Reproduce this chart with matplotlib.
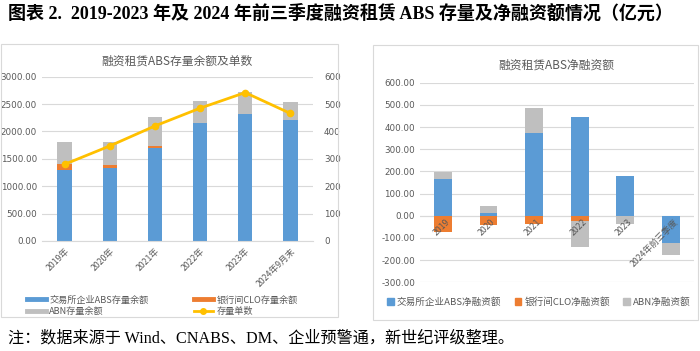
import numpy as np
import matplotlib.pyplot as plt
from matplotlib.patches import Rectangle
from matplotlib.lines import Line2D

plt.rcParams['font.family'] = ['DejaVu Sans', 'Noto Sans CJK SC']

# left chart data (亿元 / 单)
years_left = ['2019年', '2020年', '2021年', '2022年', '2023年', '2024年9月末']
exchange_bal = [1303, 1333, 1703, 2151, 2327, 2212]
clo_bal = [109, 54, 24, 0, 0, 0]
abn_bal = [393, 428, 533, 407, 388, 320]
deal_count = [280, 347, 420, 485, 542, 466]

# right chart data (亿元)
years_right = ['2019', '2020', '2021', '2022', '2023', '2024年前三季度']
exchange_net = [167, 14, 375, 447, 181, -121]
clo_net = [-73, -40, -37, -25, 0, 0]
abn_net = [29, 30, 112, -118, -35, -57]

BLUE = '#5B9BD5'
ORANGE = '#ED7D31'
GRAY = '#BFBFBF'
YELLOW = '#FFC000'
TXT = '#595959'
GRID = '#D9D9D9'
cjk = ['Noto Sans CJK SC', 'DejaVu Sans']
serif = ['Liberation Serif', 'Noto Sans CJK SC']

fig = plt.figure(figsize=(7, 3.51), dpi=100)

# panel frames
fig.patches.append(Rectangle((0.002, 0.097), 0.481, 0.778, transform=fig.transFigure,
                             fill=False, ec='#D9D9D9', lw=0.8))
fig.patches.append(Rectangle((0.533, 0.088), 0.464, 0.785, transform=fig.transFigure,
                             fill=False, ec='#D9D9D9', lw=0.8))

fig.text(0.012, 0.962, '图表 2.  2019-2023 年及 2024 年前三季度融资租赁 ABS 存量及净融资额情况（亿元）',
         family=serif, fontsize=13, fontweight='bold', va='center', ha='left')
fig.text(0.012, 0.037, '注：数据来源于 Wind、CNABS、DM、企业预警通，新世纪评级整理。',
         family=serif, fontsize=11.6, va='center', ha='left')

# ---------- left chart ----------
ax = fig.add_axes([0.06, 0.3134, 0.387, 0.4681])
x = np.arange(len(years_left))
w = 0.32
ax.bar(x, exchange_bal, w, color=BLUE, zorder=2)
ax.bar(x, clo_bal, w, bottom=exchange_bal, color=ORANGE, zorder=2)
b2 = np.array(exchange_bal) + np.array(clo_bal)
ax.bar(x, abn_bal, w, bottom=b2, color=GRAY, zorder=2)
ax.set_ylim(0, 3000)
ax.set_xlim(-0.5, len(x) - 0.5)
ax.set_yticks(np.arange(0, 3001, 500))
ax.set_yticklabels(['%.2f' % v for v in np.arange(0, 3001, 500)])
ax.grid(axis='y', color=GRID, lw=0.8, zorder=0)
ax.set_xticks(x)
ax.set_xticklabels(years_left, rotation=45, ha='right', rotation_mode='anchor', family=cjk)
ax.tick_params(axis='both', length=0, colors=TXT, labelsize=6.3)
ax.tick_params(axis='x', pad=4)
for s in ax.spines.values():
    s.set_visible(False)
ax.spines['bottom'].set_visible(True)
ax.spines['bottom'].set_color(GRID)

ax2 = ax.twinx()
ax2.plot(x, deal_count, color=YELLOW, lw=2, marker='o', ms=4.5, zorder=3)
ax2.set_ylim(0, 600)
ax2.set_yticks(np.arange(0, 601, 100))
ax2.tick_params(axis='y', length=0, colors=TXT, labelsize=6.3, pad=8)
for s in ax2.spines.values():
    s.set_visible(False)

ax.set_title('融资租赁ABS存量余额及单数', family=cjk, fontsize=8.5, color=TXT, pad=9)

# legend order is column-major, so ABN goes second
handles = [Line2D([], [], color=BLUE, lw=3.5), Line2D([], [], color=GRAY, lw=3.5),
           Line2D([], [], color=ORANGE, lw=3.5),
           Line2D([], [], color=YELLOW, lw=2, marker='o', ms=4)]
labels = ['交易所企业ABS存量余额', 'ABN存量余额', '银行间CLO存量余额', '存量单数']
fig.legend(handles, labels, loc='center', bbox_to_anchor=(0.232, 0.129), ncol=2, frameon=False,
           prop={'family': cjk, 'size': 6.6}, labelcolor=TXT, handlelength=2.0,
           columnspacing=5.0, handletextpad=0.4, labelspacing=0.3)

# ---------- right chart ----------
bx = fig.add_axes([0.6, 0.1957, 0.391, 0.5687])
xr = np.arange(len(years_right))
wr = 0.39
pos = np.zeros(len(xr))
neg = np.zeros(len(xr))
for vals, c in [(exchange_net, BLUE), (clo_net, ORANGE), (abn_net, GRAY)]:
    v = np.array(vals, dtype=float)
    bottom = np.where(v >= 0, pos, neg)
    bx.bar(xr, v, wr, bottom=bottom, color=c, zorder=2)
    pos = pos + np.where(v >= 0, v, 0)
    neg = neg + np.where(v < 0, v, 0)
bx.set_ylim(-300, 600)
bx.set_xlim(-0.5, len(xr) - 0.5)
bx.set_yticks(np.arange(-300, 601, 100))
bx.set_yticklabels(['%.2f' % v for v in np.arange(-300, 601, 100)])
bx.grid(axis='y', color=GRID, lw=0.8, zorder=0)
bx.axhline(0, color=GRID, lw=0.8, zorder=1)
bx.set_xticks([])
bx.tick_params(axis='y', length=0, colors=TXT, labelsize=6.3)
for s in bx.spines.values():
    s.set_visible(False)
for i, lab in enumerate(years_right):
    bx.text(i + 0.05, -8, lab, rotation=45, ha='right', va='top', rotation_mode='anchor',
            family=cjk, fontsize=6.3, color=TXT, zorder=4)
bx.set_title('融资租赁ABS净融资额', family=cjk, fontsize=8.5, color=TXT, pad=10)

handles_r = [Rectangle((0, 0), 1, 1, color=BLUE), Rectangle((0, 0), 1, 1, color=ORANGE),
             Rectangle((0, 0), 1, 1, color=GRAY)]
labels_r = ['交易所企业ABS净融资额', '银行间CLO净融资额', 'ABN净融资额']
fig.legend(handles_r, labels_r, loc='center', bbox_to_anchor=(0.77, 0.139), ncol=3, frameon=False,
           prop={'family': cjk, 'size': 6.9}, labelcolor=TXT, handlelength=0.7, handleheight=0.7,
           columnspacing=1.4, handletextpad=0.3)

fig.savefig('out.png', dpi=100)
